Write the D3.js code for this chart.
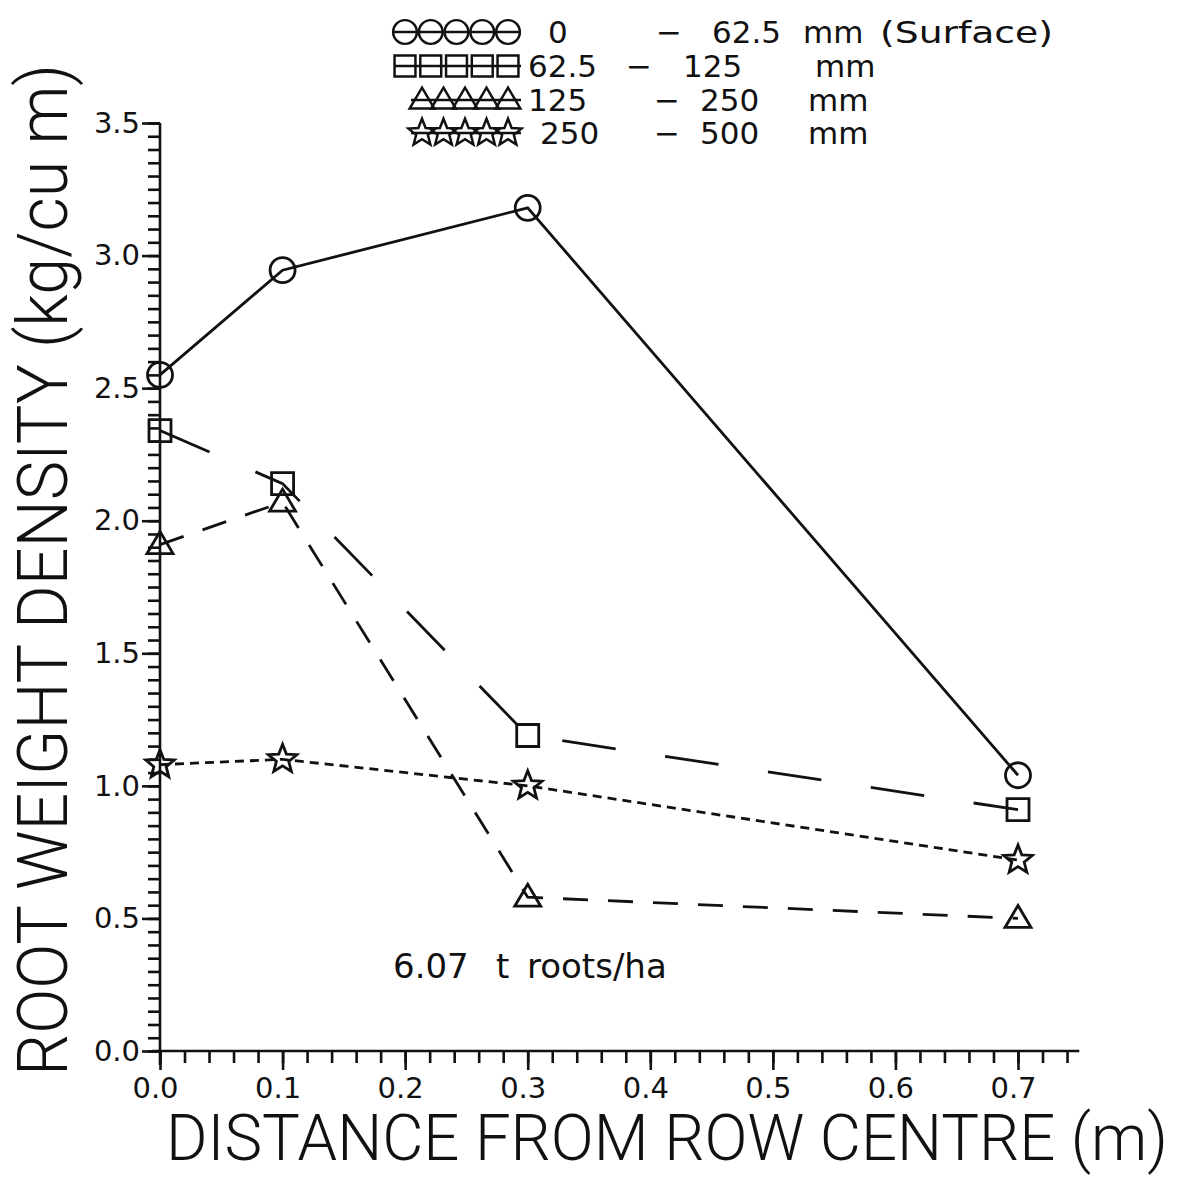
<!DOCTYPE html>
<html><head><meta charset="utf-8">
<script src="https://cdn.jsdelivr.net/npm/d3@7"></script>
<style>body{margin:0;background:#fff}</style>
</head><body>
<script>
const distances = [0.0, 0.1, 0.3, 0.7];
const seriesNames = ["0 - 62.5 mm (Surface)", "62.5 - 125 mm", "125 - 250 mm", "250 - 500 mm"];
const surface   = [2.55, 2.945, 3.18, 1.04];
const depth125  = [2.34, 2.14, 1.19, 0.91];
const depth250  = [1.91, 2.07, 0.58, 0.50];
const depth500  = [1.08, 1.10, 1.00, 0.72];
const xTickLabels = ["0.0","0.1","0.2","0.3","0.4","0.5","0.6","0.7"];
const yTickLabels = ["0.0","0.5","1.0","1.5","2.0","2.5","3.0","3.5"];
const legendTokens = [
  ["0", "\u2212", "62.5", "mm", "(Surface)"],
  ["62.5", "\u2212", "125", "mm"],
  ["125", "\u2212", "250", "mm"],
  ["250", "\u2212", "500", "mm"]
];
const annotation = ["6.07", "t", "roots/ha"];
const xTitle = "DISTANCE FROM ROW CENTRE (m)";
const yTitle = "ROOT WEIGHT DENSITY (kg/cu m)";

const W = 1189, H = 1179;
const svg = d3.select("body").append("svg").attr("width", W).attr("height", H)
  .style("background", "#fff");
const FONT = "DejaVu Sans, Liberation Sans, sans-serif";
const TFONT = "Roboto, Inter, Liberation Sans, sans-serif";

const x = d3.scaleLinear().domain([0, 0.7]).range([160, 1018]);
const y = d3.scaleLinear().domain([0, 3.5]).range([1051, 123]);

// axes
const minorX = d3.range(0, 0.7501, 0.02).map(v => +v.toFixed(2));
const majorX = xTickLabels.map(Number);
const minorY = d3.range(0, 3.5001, 0.05).map(v => +v.toFixed(2));
const majorY = yTickLabels.map(Number);

const gx = svg.append("g").attr("transform", `translate(0,${y(0)})`);
gx.call(d3.axisBottom(x).tickValues(minorX).tickSize(12).tickFormat("").tickSizeOuter(0));
gx.call(g => g.select(".domain").attr("d", `M${x(0)-8},0H${x(0.75)}`));
const gx2 = svg.append("g").attr("transform", `translate(0,${y(0)})`);
gx2.call(d3.axisBottom(x).tickValues(majorX).tickSize(19).tickPadding(7)
  .tickFormat((d,i) => xTickLabels[i]).tickSizeOuter(0));
gx2.select(".domain").remove();
gx2.selectAll(".tick text").attr("dx", -5);

const gy = svg.append("g").attr("transform", `translate(${x(0)},0)`);
gy.call(d3.axisLeft(y).tickValues(minorY).tickSize(12).tickFormat("").tickSizeOuter(0));
gy.call(g => g.select(".domain").attr("d", `M0,${y(3.5)}V${y(0)+14}`));
const gy2 = svg.append("g").attr("transform", `translate(${x(0)},0)`);
gy2.call(d3.axisLeft(y).tickValues(majorY).tickSize(18).tickPadding(2)
  .tickFormat((d,i) => yTickLabels[i]).tickSizeOuter(0));
gy2.select(".domain").remove();

svg.selectAll(".domain, .tick line").attr("stroke", "#111").attr("stroke-width", 2.6);
svg.selectAll(".tick text").attr("font-family", FONT).attr("font-size", 29).attr("fill", "#111");

// series
const series = [
  {vals: surface,  marker: "circle",   dash: null},
  {vals: depth125, marker: "square",   dash: "54,50"},
  {vals: depth250, marker: "triangle", dash: "25,20"},
  {vals: depth500, marker: "star",     dash: "9,6"}
];

function markerPath(type) {
  if (type === "circle") return d3.symbol().type(d3.symbolCircle).size(Math.PI*12.5*12.5)();
  if (type === "square") return "M-11,-11H11V11H-11Z";
  if (type === "triangle") return "M0,-13L13,9H-13Z";
  if (type === "star") {
    const pts = [];
    for (let i = 0; i < 10; i++) {
      const r = i % 2 === 0 ? 15 : 6.5;
      const a = -Math.PI/2 + i*Math.PI/5;
      pts.push([r*Math.cos(a), r*Math.sin(a)]);
    }
    return "M" + pts.map(p => p.join(",")).join("L") + "Z";
  }
}

const line = d3.line().x(d => x(d[0])).y(d => y(d[1]));
series.forEach(s => {
  const pts = distances.map((d,i) => [d, s.vals[i]]);
  svg.append("path").attr("d", line(pts)).attr("fill", "none")
    .attr("stroke", "#111").attr("stroke-width", 2.8)
    .attr("stroke-dasharray", s.dash);
  svg.selectAll(null).data(pts).enter().append("path")
    .attr("d", markerPath(s.marker))
    .attr("transform", d => `translate(${x(d[0])},${y(d[1])})`)
    .attr("fill", "none").attr("stroke", "#111").attr("stroke-width", 2.8);
});

// legend
const legRowY = [32, 66, 100, 133];
const legStartX = [405, 405, 422, 422];
const legTokX = [
  [548, 656, 712, 803, 880],
  [528, 626, 683, 815],
  [528, 654, 700, 808],
  [540, 654, 700, 808]
];
series.forEach((s, r) => {
  const cy = legRowY[r];
  const x0 = legStartX[r], x1 = 508;
  svg.append("line").attr("x1", x0 - 11).attr("x2", 521).attr("y1", cy).attr("y2", cy)
    .attr("stroke", "#111").attr("stroke-width", 2.4);
  d3.range(5).forEach(k => {
    const cx = x0 + k*(x1-x0)/4;
    svg.append("path").attr("d", markerPath(s.marker))
      .attr("transform", `translate(${cx},${cy}) scale(0.95)`)
      .attr("fill", "none").attr("stroke", "#111").attr("stroke-width", 2.6);
  });
  legendTokens[r].forEach((t, j) => {
    const el = svg.append("text").attr("x", legTokX[r][j]).attr("y", cy + 11)
      .attr("font-family", FONT).attr("font-size", 31).attr("fill", "#111").text(t);
    if (t === "(Surface)") el.attr("textLength", 173).attr("lengthAdjust", "spacingAndGlyphs");
  });
});

// annotation
const annX = [393, 496, 527];
annotation.forEach((t, j) => {
  svg.append("text").attr("x", annX[j]).attr("y", 978)
    .attr("font-family", FONT).attr("font-size", 34).attr("fill", "#111").text(t);
});

// axis titles
svg.append("text").attr("x", 166).attr("y", 1160)
  .attr("textLength", 1002).attr("lengthAdjust", "spacingAndGlyphs")
  .attr("font-family", TFONT).attr("font-weight", 300)
  .attr("font-size", 64).attr("fill", "#111").text(xTitle);
svg.append("text").attr("transform", "translate(67,1076) rotate(-90)")
  .attr("textLength", 1012).attr("lengthAdjust", "spacingAndGlyphs")
  .attr("font-family", TFONT).attr("font-weight", 300)
  .attr("font-size", 70).attr("fill", "#111").text(yTitle);
</script>
</body></html>
